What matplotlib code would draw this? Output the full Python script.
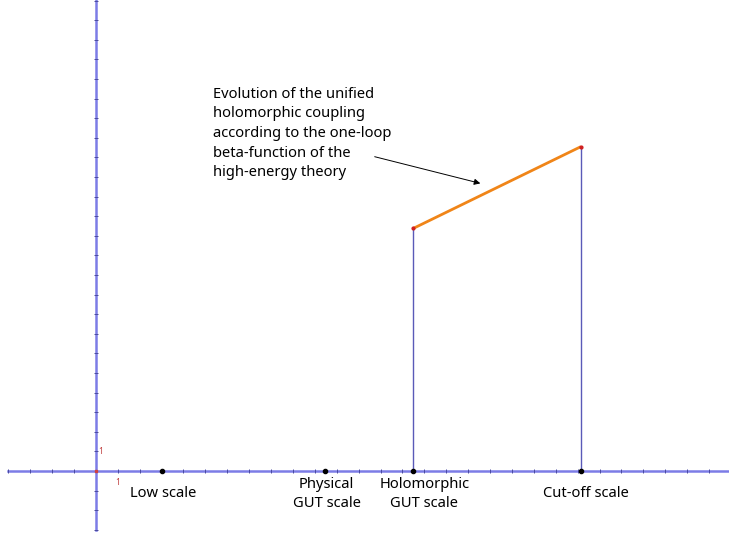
import numpy as np
import matplotlib.pyplot as plt

# energy scales on the horizontal axis
scale_x = [3, 10.45, 14.5, 22.15]
scale_labels = ['Low scale', 'Physical\nGUT scale', 'Holomorphic\nGUT scale', 'Cut-off scale']

# coupling running between holomorphic GUT scale and cut-off
coupling_x = [14.5, 22.15]
coupling_y = [12.38, 16.55]

note = ('Evolution of the unified\nholomorphic coupling\naccording to the one-loop\n'
        'beta-function of the\nhigh-energy theory')

plt.rcParams['font.family'] = ['Noto Sans', 'DejaVu Sans']

fig = plt.figure(figsize=(7.29, 5.33), dpi=100)
ax = fig.add_axes([0, 0, 1, 1])
ax.set_xlim(-4.374, 28.91)
ax.set_ylim(-3.163, 24.03)
ax.axis('off')

axis_col = '#7c7ce6'
tick_col = '#4a4aa0'

# coordinate axes
ax.plot([-4.0, 29], [0, 0], color=axis_col, lw=1.8, zorder=1)
ax.plot([0, 0], [-3.0, 25], color=axis_col, lw=1.8, zorder=1)
xt = np.arange(-4, 29)
yt = np.arange(-3, 25)
ax.plot(xt[xt != 0], np.zeros(len(xt) - 1), ls='none', marker='|', ms=2.5, mew=0.7, color=tick_col, zorder=2)
ax.plot(np.zeros(len(yt) - 1), yt[yt != 0], ls='none', marker='_', ms=2.5, mew=0.7, color=tick_col, zorder=2)
ax.plot(0, 0, marker='s', ms=1.5, color='#d04040', zorder=3)
ax.text(1, -0.35, '1', color='#c04040', fontsize=6, ha='center', va='top')
ax.text(0.1, 1, '1', color='#c04040', fontsize=6, ha='left', va='center')

# vertical lines and coupling
for x, y in zip(coupling_x, coupling_y):
    ax.plot([x, x], [0, y], color='#5a5ab8', lw=1.0, zorder=2)
ax.plot(coupling_x, coupling_y, color='#f08518', lw=2.0, zorder=3, solid_capstyle='butt')
ax.plot(coupling_x, coupling_y, ls='none', marker='o', ms=2, color='#d02020', zorder=4)

# scale points and labels
ax.plot(scale_x, np.zeros(len(scale_x)), ls='none', marker='o', ms=3, color='black', zorder=4)
dx = [2, 2, 11, 5]
dy = [-15, -6, -6, -15]
for x, lab, ox, oy in zip(scale_x, scale_labels, dx, dy):
    ax.annotate(lab, (x, 0), xytext=(ox, oy), textcoords='offset pixels',
                ha='center', va='top', fontsize=10.6, linespacing=1.4)

ax.text(5.35, 19.6, note, fontsize=10.6, ha='left', va='top', linespacing=1.42)
ax.annotate('', xy=(17.68, 14.64), xytext=(12.61, 16.07),
            arrowprops=dict(arrowstyle='-|>', color='black', lw=0.7, mutation_scale=9))

fig.savefig('out.png', dpi=100)
